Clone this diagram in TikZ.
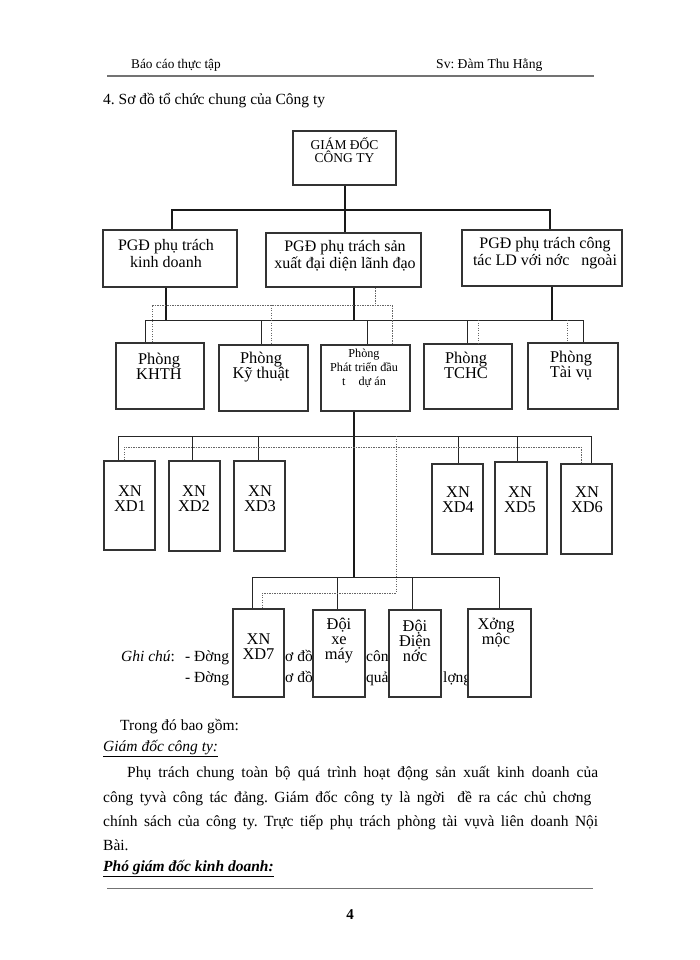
\documentclass[tikz,border=0pt]{standalone}
\usepackage{fontspec}
\setmainfont{Liberation Serif}
\frenchspacing
\usetikzlibrary{positioning}
\tikzset{
  orgBox/.style={
    draw=black!80,
    line width=1.2pt,
    fill=white,
    inner sep=0pt
  },
  boxText/.style={align=center, inner sep=0pt, font=\fontsize{16.4}{15}\selectfont},
  mainLink/.style={line width=2.6pt, black!90},
  subLink/.style={line width=0.9pt, black!85},
  checkLink/.style={line width=0.9pt, black!60, dash pattern=on 1.4pt off 1.1pt},
  bodyText/.style={anchor=base west, inner sep=0pt, font=\fontsize{15.5}{18}\selectfont},
  pageRule/.style={line width=1.4pt, black!55}
}

\begin{document}
\begin{tikzpicture}[x=1pt,y=-1pt]
  \useasboundingbox[fill=white] (0,0) rectangle (700,960);

  % page header
  \node[bodyText, font=\fontsize{13.3}{15}\selectfont] (hdrL) at (131,69) {Báo cáo thực tập};
  \node[bodyText, font=\fontsize{13.6}{15}\selectfont] (hdrR) at (436,69) {Sv: Đàm Thu Hằng};
  \coordinate (hdrA) at (107,76);
  \coordinate (hdrB) at (594,76);
  \draw[pageRule] (hdrA) -- (hdrB);
  \node[bodyText] (title) at (103,105) {4. Sơ đồ tổ chức chung của Công ty};

  % legend, partly hidden by the lower boxes
  \node[bodyText] (noteA) at (121,661) {\textit{Ghi chú}:};
  \node[bodyText] (noteB) at (185,661) {- Đờng};
  \node[bodyText] (noteC) at (279,661) {sơ đồ};
  \node[bodyText] (noteD) at (366,661) {công};
  \node[bodyText] (noteE) at (185,682) {- Đờng};
  \node[bodyText] (noteF) at (279,682) {sơ đồ t};
  \node[bodyText] (noteG) at (366,682) {quản};
  \node[bodyText] (noteH) at (443,682) {lợng};

  % boxes
  \node[orgBox, minimum width=103pt, minimum height=54pt] (gd) at (344.5,158) {};
  \node[orgBox, minimum width=134pt, minimum height=57pt] (pgdkd) at (170,258.5) {};
  \node[orgBox, minimum width=155pt, minimum height=54pt] (pgdsx) at (343.5,260) {};
  \node[orgBox, minimum width=160pt, minimum height=56pt] (pgdnn) at (542,258) {};

  \node[orgBox, minimum width=88pt, minimum height=66pt] (pkhth) at (160,376) {};
  \node[orgBox, minimum width=89pt, minimum height=66pt] (pkt) at (263.5,378) {};
  \node[orgBox, minimum width=89pt, minimum height=66pt] (pptda) at (365.5,378) {};
  \node[orgBox, minimum width=88pt, minimum height=65pt] (ptchc) at (468,376.5) {};
  \node[orgBox, minimum width=90pt, minimum height=66pt] (ptv) at (573,376) {};

  \node[orgBox, minimum width=51pt, minimum height=89pt] (xd1) at (129.5,505.5) {};
  \node[orgBox, minimum width=51pt, minimum height=90pt] (xd2) at (194.5,506) {};
  \node[orgBox, minimum width=51pt, minimum height=90pt] (xd3) at (259.5,506) {};
  \node[orgBox, minimum width=51pt, minimum height=90pt] (xd4) at (457.5,509) {};
  \node[orgBox, minimum width=52pt, minimum height=92pt] (xd5) at (521,508) {};
  \node[orgBox, minimum width=51pt, minimum height=90pt] (xd6) at (586.5,509) {};

  \node[orgBox, minimum width=51pt, minimum height=88pt] (xd7) at (258.5,653) {};
  \node[orgBox, minimum width=52pt, minimum height=87pt] (doixe) at (339,653.5) {};
  \node[orgBox, minimum width=52pt, minimum height=87pt] (doidn) at (415,653.5) {};
  \node[orgBox, minimum width=63pt, minimum height=88pt] (xuong) at (499.5,653) {};

  % box texts
  \node[boxText, font=\fontsize{13.5}{13}\selectfont] (gdT) at (344.5,150) {GIÁM ĐỐC\\CÔNG TY};
  \node[boxText, font=\fontsize{16}{17}\selectfont] (pgdkdT) at (166,254) {PGĐ phụ trách\\kinh doanh};
  \node[boxText, font=\fontsize{16}{17}\selectfont] (pgdsxT) at (345,256) {PGĐ phụ trách sản\\xuất đại diện lãnh đạo};
  \node[boxText, font=\fontsize{16}{17}\selectfont] (pgdnnT) at (545,253) {PGĐ phụ trách công\\tác LD với nớc\hspace{8pt} ngoài};

  \node[boxText] (pkhthT) at (159,366) {Phòng\\KHTH};
  \node[boxText] (pktT) at (261,367) {Phòng\\Kỹ thuật};
  \node[boxText, font=\fontsize{12.2}{14}\selectfont] (pptdaT) at (364,368) {Phòng\\Phát triển đầu\\t\hspace{10pt} dự án};
  \node[boxText] (ptchcT) at (466,365) {Phòng\\TCHC};
  \node[boxText] (ptvT) at (571,366) {Phòng\\Tài vụ};

  \node[boxText] (xd1T) at (130,498.5) {XN\\XD1};
  \node[boxText] (xd2T) at (194,498.5) {XN\\XD2};
  \node[boxText] (xd3T) at (260,498.5) {XN\\XD3};
  \node[boxText] (xd4T) at (458,500) {XN\\XD4};
  \node[boxText] (xd5T) at (520,500) {XN\\XD5};
  \node[boxText] (xd6T) at (587,500) {XN\\XD6};

  \node[boxText] (xd7T) at (258.5,646.5) {XN\\XD7};
  \node[boxText] (doixeT) at (339,641) {Đội\\xe\\máy};
  \node[boxText] (doidnT) at (415,641) {Đội\\Điện\\nớc};
  \node[boxText] (xuongT) at (496,632.5) {Xởng\\mộc};

  % director to deputies
  \coordinate (busA) at (345,210);
  \coordinate (dA1) at (172,210);
  \coordinate (dA3) at (550,210);
  \draw[mainLink] (gd.south -| busA) -- (busA);
  \draw[mainLink] (dA1 |- pgdkd.north) -- (dA1) -- (dA3) -- (dA3 |- pgdnn.north);
  \draw[mainLink] (busA) -- (busA |- pgdsx.north);

  % deputies to departments
  \coordinate (busB1) at (166,320);
  \coordinate (busB2) at (354,320);
  \coordinate (busB3) at (552,320);
  \draw[mainLink] (busB1 |- pgdkd.south) -- (busB1);
  \draw[mainLink] (busB2 |- pgdsx.south) -- (busB2);
  \draw[mainLink] (busB3 |- pgdnn.south) -- (busB3);
  \coordinate (dB1) at (145,320);
  \coordinate (dB2) at (261,320);
  \coordinate (dB3) at (367,320);
  \coordinate (dB4) at (467,320);
  \coordinate (dB5) at (583,320);
  \draw[subLink] (dB1 |- pkhth.north) -- (dB1) -- (dB5) -- (dB5 |- ptv.north);
  \draw[subLink] (dB2) -- (dB2 |- pkt.north);
  \draw[subLink] (dB3) -- (dB3 |- pptda.north);
  \draw[subLink] (dB4) -- (dB4 |- ptchc.north);

  % quality check lines, upper level
  \coordinate (qB0) at (375,305);
  \coordinate (qB1) at (152,305);
  \coordinate (qB2) at (271,305);
  \coordinate (qB3) at (392,305);
  \coordinate (qB4) at (478,320);
  \coordinate (qB5) at (567,320);
  \draw[checkLink] (qB0 |- pgdsx.south) -- (qB0);
  \draw[checkLink] (qB1 |- pkhth.north) -- (qB1) -- (qB3) -- (qB3 |- pptda.north);
  \draw[checkLink] (qB2) -- (qB2 |- pkt.north);
  \draw[checkLink] (qB4) -- (qB4 |- ptchc.north);
  \draw[checkLink] (qB5) -- (qB5 |- ptv.north);

  % development office to units
  \coordinate (busC) at (354,577);
  \draw[mainLink] (busC |- pptda.south) -- (busC);
  \coordinate (dC1) at (118,436);
  \coordinate (dC2) at (192,436);
  \coordinate (dC3) at (258,436);
  \coordinate (dC4) at (458,436);
  \coordinate (dC5) at (517,436);
  \coordinate (dC6) at (591,436);
  \draw[subLink] (dC1 |- xd1.north) -- (dC1) -- (dC6) -- (dC6 |- xd6.north);
  \draw[subLink] (dC2) -- (dC2 |- xd2.north);
  \draw[subLink] (dC3) -- (dC3 |- xd3.north);
  \draw[subLink] (dC4) -- (dC4 |- xd4.north);
  \draw[subLink] (dC5) -- (dC5 |- xd5.north);

  \coordinate (dD1) at (252,577);
  \coordinate (dD2) at (337,577);
  \coordinate (dD3) at (412,577);
  \coordinate (dD4) at (499,577);
  \draw[subLink] (dD1 |- xd7.north) -- (dD1) -- (dD4) -- (dD4 |- xuong.north);
  \draw[subLink] (dD2) -- (dD2 |- doixe.north);
  \draw[subLink] (dD3) -- (dD3 |- doidn.north);

  % quality check lines, lower level
  \coordinate (qC1) at (124,447);
  \coordinate (qC6) at (581,447);
  \draw[checkLink] (qC1 |- xd1.north) -- (qC1) -- (qC6) -- (qC6 |- xd6.north);
  \coordinate (qC7) at (396,436);
  \coordinate (qC8) at (396,593);
  \coordinate (qC9) at (262,593);
  \draw[checkLink] (qC7) -- (qC8) -- (qC9) -- (qC9 |- xd7.north);

  % text below the chart
  \node[bodyText] (incl) at (120,730) {Trong đó bao gồm:};
  \node[bodyText] (hGd) at (103,751) {\underline{\textit{Giám đốc công ty:}}};
  \node[bodyText] (par1) at (127,777)
    {\makebox[471pt][s]{Phụ trách chung toàn bộ quá trình hoạt động sản xuất kinh doanh của}};
  \node[bodyText] (par2) at (103,802)
    {\makebox[488pt][s]{công tyvà công tác đảng. Giám đốc công ty là ngời\hspace{6pt} đề ra các chủ chơng}};
  \node[bodyText] (par3) at (103,826)
    {\makebox[495pt][s]{chính sách của công ty. Trực tiếp phụ trách phòng tài vụvà liên doanh Nội}};
  \node[bodyText] (par4) at (103,850) {Bài.};
  \node[bodyText] (hPgd) at (103,871) {\underline{\textbf{\textit{Phó giám đốc kinh doanh:}}}};

  % page footer
  \coordinate (ftA) at (107,888);
  \coordinate (ftB) at (593,888);
  \draw[pageRule, line width=1pt] (ftA) -- (ftB);
  \node[font=\bfseries\fontsize{15}{18}\selectfont] (pgNo) at (350,915) {4};
\end{tikzpicture}
\end{document}
